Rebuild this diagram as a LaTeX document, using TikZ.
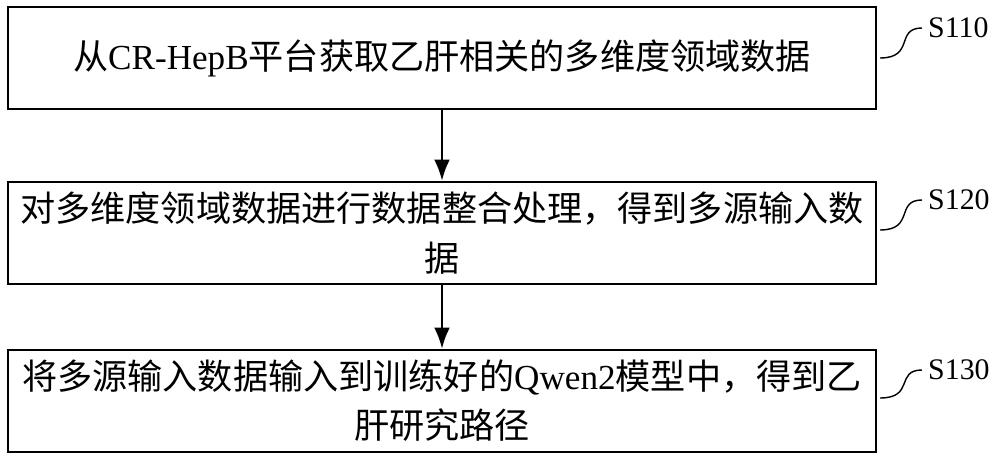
\documentclass[tikz,border=0pt]{standalone}
\usepackage{fontspec}
\setmainfont{Liberation Serif}
\newfontfamily\cjk{Noto Sans CJK SC}
\newcommand{\lat}[1]{{\rmfamily #1}}
\usetikzlibrary{positioning,arrows.meta}
\begin{document}
\begin{tikzpicture}[x=0.02cm,y=-0.02cm,
    stepbox/.style={draw,line width=1.4pt,minimum width=17.36cm,minimum height=2.04cm,
      align=center,font=\fontsize{20}{28}\selectfont\cjk,inner sep=2pt},
    tag/.style={font=\fontsize{17}{20}\selectfont},
    >={Latex[length=12pt,width=9pt]}]
    \useasboundingbox (0,0) rectangle (1000,462);

    \node[stepbox] (b1) at (442,58) {从\lat{CR-HepB}平台获取乙肝相关的多维度领域数据};
    \node[stepbox] (b2) at (442,233) {对多维度领域数据进行数据整合处理，得到多源输入数\\据};
    \node[stepbox] (b3) at (442,401) {将多源输入数据输入到训练好的\lat{Qwen2}模型中，得到乙\\肝研究路径};

    \draw[->,line width=1.4pt] (b1) -- (b2);
    \draw[->,line width=1.4pt] (b2) -- (b3);

    \node[tag,anchor=west] (t1) at (922,28) {S110};
    \node[tag,anchor=west] (t2) at (922,200) {S120};
    \node[tag,anchor=west] (t3) at (922,370) {S130};

    \coordinate (c1) at (880,58);
    \coordinate (c2) at (880,230);
    \coordinate (c3) at (880,398);
    \draw[thick] (c1) .. controls (915,58) and (895,28) .. (t1.west);
    \draw[thick] (c2) .. controls (915,230) and (895,200) .. (t2.west);
    \draw[thick] (c3) .. controls (915,398) and (895,370) .. (t3.west);
\end{tikzpicture}
\end{document}
